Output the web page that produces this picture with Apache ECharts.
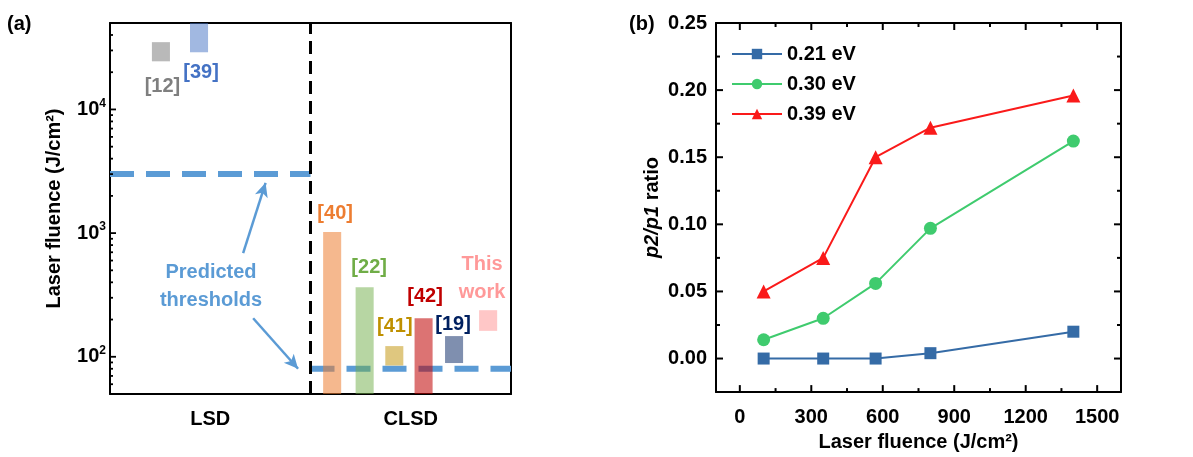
<!DOCTYPE html>
<html><head><meta charset="utf-8">
<script src="https://cdn.jsdelivr.net/npm/echarts@6/dist/echarts.min.js"></script>
<style>html,body{margin:0;padding:0;background:#fff}#c{width:1193px;height:457px}</style>
</head><body><div id="c"></div>
<script>
// ---------- Panel (a) data ----------
const refLabels = ['[12]', '[39]', '[40]', '[22]', '[41]', '[42]', '[19]', 'This\nwork'];
const refSlots  = [12.7, 22.2, 55.4, 63.5, 70.9, 78.2, 85.8, 94.3];
const refLow    = [24500, 29000, 50, 50, 85, 50, 89, 162];
const refHigh   = [35000, 50000, 1020, 365, 122, 205, 147, 238];
const regimeLabels = ['LSD', 'CLSD'];
const regimeSlots  = [25, 75];
const lsdThreshold  = 3000;
const clsdThreshold = 80;
const logTicks = [100, 1000, 10000];
const logMinorTicks = [60, 70, 80, 90, 200, 300, 400, 500, 600, 700, 800, 900,
  2000, 3000, 4000, 5000, 6000, 7000, 8000, 9000, 20000, 30000, 40000];

// ---------- Panel (b) data ----------
const fluence = [100, 350, 570, 800, 1400];
const s021 = [0, 0, 0, 0.004, 0.020];
const s030 = [0.014, 0.030, 0.056, 0.097, 0.162];
const s039 = [0.050, 0.075, 0.150, 0.172, 0.196];
const seriesNames = ['0.21 eV', '0.30 eV', '0.39 eV'];
const xTicksB = [0, 300, 600, 900, 1200, 1500];
const xMinorB = [150, 450, 750, 1050, 1350];
const yTicksB = [0, 0.05, 0.10, 0.15, 0.20, 0.25];
const yMinorB = [0.025, 0.075, 0.125, 0.175, 0.225];

// ---------- styles ----------
const FONT = '"Liberation Sans", Arial, sans-serif';
const barColors = ['rgba(127,127,127,0.55)', 'rgba(68,114,196,0.5)', 'rgba(237,125,49,0.55)',
  'rgba(112,173,71,0.5)', 'rgba(191,144,0,0.5)', 'rgba(192,0,0,0.55)', 'rgba(0,32,96,0.5)', 'rgba(255,153,153,0.55)'];
const labelColors = ['#7F7F7F', '#4472C4', '#ED7D31', '#70AD47', '#BF9000', '#C00000', '#002060', '#FF9999'];
// [dx, dy from bar edge, below?]
const labelPlace = [[1.5, 25, 1], [2, 20, 1], [3, -19, 0], [4.5, -20, 0], [0.5, -20, 0], [1.5, -22, 0], [-1, -12, 0], [-6, -32, 0]];
const BAR_HALF = 2.25;
const MAJOR = 7, MINOR = 4;

const chart = echarts.init(document.getElementById('c'));

function lbl(extra) {
  return Object.assign({color: '#000', fontSize: 20, fontWeight: 'bold', fontFamily: FONT}, extra);
}
function line() {
  return {show: true, onZero: false, lineStyle: {color: '#000', width: 2}};
}
function frameAxis(extra) {
  return Object.assign({
    axisLine: line(), axisLabel: {show: false}, splitLine: {show: false}, axisTick: {show: false}
  }, extra);
}
// tick renderer for panel b: data item = [value, dim(0=x,1=y), length, mirrored(0/1)]
function tickRenderer(xRef, yRef, width) {
  return function (params, api) {
    const v = api.value(0), d = api.value(1), len = api.value(2), both = api.value(3);
    const cs = params.coordSys;
    const st = {stroke: '#000', lineWidth: width};
    const out = [];
    if (d === 0) {
      const x = api.coord([v, yRef])[0];
      const b = cs.y + cs.height;
      out.push({type: 'line', shape: {x1: x, y1: b, x2: x, y2: b - len}, style: st});
      if (both) out.push({type: 'line', shape: {x1: x, y1: cs.y, x2: x, y2: cs.y + len}, style: st});
    } else {
      const y = api.coord([xRef, v])[1];
      out.push({type: 'line', shape: {x1: cs.x, y1: y, x2: cs.x + len, y2: y}, style: st});
      if (both) out.push({type: 'line', shape: {x1: cs.x + cs.width, y1: y, x2: cs.x + cs.width - len, y2: y}, style: st});
    }
    return {type: 'group', children: out};
  };
}

// panel (a) ticks: same layout as the bar data [x, low, high] so the log axis accepts it
const ticksA = logTicks.concat(logMinorTicks).map(v => [1, v, v]);
const ticksB = xTicksB.map(v => [v, 0, MAJOR, 1]).concat(xMinorB.map(v => [v, 0, MINOR, 1]),
  yTicksB.map(v => [v, 1, MAJOR, 1]), yMinorB.map(v => [v, 1, MINOR, 1]));

const option = {
  animation: false,
  backgroundColor: '#fff',
  title: [
    {text: '(a)', left: 7, top: 14, padding: 0, textStyle: {fontSize: 20, fontWeight: 'bold', fontFamily: FONT, color: '#000'}},
    {text: '(b)', left: 629, top: 14, padding: 0, textStyle: {fontSize: 20, fontWeight: 'bold', fontFamily: FONT, color: '#000'}}
  ],
  grid: [
    {left: 110, top: 23, width: 401, height: 371},
    {left: 716, top: 23, width: 405, height: 371}
  ],
  legend: {
    data: seriesNames, orient: 'vertical', left: 726, top: 39,
    itemWidth: 50, itemHeight: 13, itemGap: 10,
    textStyle: {fontSize: 20, fontWeight: 'bold', fontFamily: FONT, color: '#000'}
  },
  graphic: [{
    type: 'text', x: 211, y: 286, z: 100,
    style: {text: 'Predicted\nthresholds', fill: '#5B9BD5', font: 'bold 20px ' + FONT,
      align: 'center', verticalAlign: 'middle', lineHeight: 28}
  }],
  xAxis: [
    {type: 'value', gridIndex: 0, min: 0, max: 100, position: 'bottom',
      axisLine: line(), axisTick: {show: false}, splitLine: {show: false},
      axisLabel: lbl({margin: 15, customValues: regimeSlots.slice(),
        formatter: v => regimeLabels[regimeSlots.indexOf(v)] || ''})},
    frameAxis({type: 'value', gridIndex: 0, min: 0, max: 100, position: 'top'}),
    {type: 'value', gridIndex: 1, min: -100, max: 1600, position: 'bottom',
      name: 'Laser fluence (J/cm²)', nameLocation: 'middle', nameGap: 37,
      nameTextStyle: {fontSize: 20, fontWeight: 'bold', fontFamily: FONT, color: '#000'},
      axisLine: line(), splitLine: {show: false}, axisTick: {show: false},
      axisLabel: lbl({margin: 15, customValues: xTicksB.slice(), formatter: v => String(v)})},
    frameAxis({type: 'value', gridIndex: 1, min: -100, max: 1600, position: 'top'})
  ],
  yAxis: [
    {type: 'log', logBase: 10, gridIndex: 0, min: 50, max: 50000, position: 'left',
      name: 'Laser fluence (J/cm²)', nameLocation: 'middle', nameGap: 46,
      nameTextStyle: {fontSize: 20, fontWeight: 'bold', fontFamily: FONT, color: '#000'},
      axisLine: line(), splitLine: {show: false}, axisTick: {show: false},
      axisLabel: {margin: 4, customValues: logTicks.slice(),
        formatter: v => '{n|10}{e|' + Math.round(Math.log10(v)) + '}',
        rich: {
          n: {fontSize: 20, fontWeight: 'bold', fontFamily: FONT, color: '#000', lineHeight: 24},
          e: {fontSize: 12, fontWeight: 'bold', fontFamily: FONT, color: '#000', verticalAlign: 'top', lineHeight: 14}
        }}},
    frameAxis({type: 'log', logBase: 10, gridIndex: 0, min: 50, max: 50000, position: 'right'}),
    {type: 'value', gridIndex: 1, min: -0.025, max: 0.25, position: 'left',
      name: '{i|p2/p1} ratio', nameLocation: 'middle', nameGap: 54,
      nameTextStyle: {fontSize: 20, fontWeight: 'bold', fontFamily: FONT, color: '#000',
        rich: {i: {fontSize: 20, fontWeight: 'bold', fontStyle: 'italic', fontFamily: FONT, color: '#000'}}},
      axisLine: line(), splitLine: {show: false}, axisTick: {show: false},
      axisLabel: lbl({margin: 9, customValues: yTicksB.slice(), formatter: v => v.toFixed(2)})},
    frameAxis({type: 'value', gridIndex: 1, min: -0.025, max: 0.25, position: 'right'})
  ],
  series: [
    {type: 'line', xAxisIndex: 0, yAxisIndex: 0, symbol: 'none', z: 2, silent: true,
      data: [[0, lsdThreshold], [regimeSlots[0] * 2, lsdThreshold]],
      lineStyle: {color: '#5B9BD5', width: 6, type: [24, 12]},
      markLine: {
        silent: true, symbol: ['none', 'arrow'], symbolSize: [10, 14], label: {show: false},
        lineStyle: {color: '#5B9BD5', width: 2.5, type: 'solid'},
        data: [
          [{coord: [33.2, 690]}, {coord: [38.8, 2550]}],
          [{coord: [35.7, 205]}, {coord: [46.9, 80]}]
        ]
      }},
    {type: 'line', xAxisIndex: 0, yAxisIndex: 0, symbol: 'none', z: 2, silent: true,
      data: [[regimeSlots[0] * 2, clsdThreshold], [100, clsdThreshold]],
      lineStyle: {color: '#5B9BD5', width: 6, type: [24, 12]}},
    {type: 'line', xAxisIndex: 0, yAxisIndex: 0, symbol: 'none', z: 3, silent: true,
      data: [[regimeSlots[0] * 2, 50], [regimeSlots[0] * 2, 50000]],
      lineStyle: {color: '#000', width: 3, type: [13, 7]}},
    {type: 'custom', xAxisIndex: 0, yAxisIndex: 0, z: 4, silent: true,
      data: refSlots.map((s, i) => [s, refLow[i], refHigh[i]]),
      encode: {x: 0, y: [1, 2]},
      renderItem: function (params, api) {
        const i = params.dataIndex;
        const x = api.value(0), lo = api.value(1), hi = api.value(2);
        const pL = api.coord([x - BAR_HALF, lo]);
        const pR = api.coord([x + BAR_HALF, hi]);
        const cs = params.coordSys;
        const top = Math.max(pR[1], cs.y);
        const bot = Math.min(pL[1], cs.y + cs.height);
        const pl = labelPlace[i];
        const cx = (pL[0] + pR[0]) / 2 + pl[0];
        const cy = pl[2] ? bot + pl[1] : top + pl[1];
        return {type: 'group', children: [
          {type: 'rect', shape: {x: pL[0], y: top, width: pR[0] - pL[0], height: bot - top},
            style: {fill: barColors[i]}},
          {type: 'text', x: cx, y: cy,
            style: {text: refLabels[i], fill: labelColors[i], font: 'bold 20px ' + FONT,
              align: 'center', verticalAlign: 'middle', lineHeight: 28}}
        ]};
      }},
    // axis ticks (panel a), drawn on the left edge at each tick value
    {type: 'custom', xAxisIndex: 0, yAxisIndex: 0, z: 5, silent: true,
      data: ticksA, encode: {x: 0, y: [1, 2]},
      renderItem: function (params, api) {
        const v = api.value(1);
        const y = api.coord([api.value(0), v])[1];
        const cs = params.coordSys;
        const len = logTicks.indexOf(v) >= 0 ? 6 : 3;
        return {type: 'line', shape: {x1: cs.x, y1: y, x2: cs.x + len, y2: y},
          style: {stroke: '#000', lineWidth: 1.8}};
      }},
    // axis ticks (panel b)
    {type: 'custom', xAxisIndex: 2, yAxisIndex: 2, z: 10, silent: true, clip: false,
      data: ticksB, encode: {x: -1, y: -1}, renderItem: tickRenderer(0, 0, 2)},
    {name: seriesNames[0], type: 'line', xAxisIndex: 2, yAxisIndex: 2,
      data: fluence.map((f, i) => [f, s021[i]]), symbol: 'rect', symbolSize: 12,
      lineStyle: {width: 2, color: '#356BA6'}, itemStyle: {color: '#356BA6'}},
    {name: seriesNames[1], type: 'line', xAxisIndex: 2, yAxisIndex: 2,
      data: fluence.map((f, i) => [f, s030[i]]), symbol: 'circle', symbolSize: 13,
      lineStyle: {width: 2, color: '#3FCB6E'}, itemStyle: {color: '#3FCB6E'}},
    {name: seriesNames[2], type: 'line', xAxisIndex: 2, yAxisIndex: 2,
      data: fluence.map((f, i) => [f, s039[i]]), symbol: 'triangle', symbolSize: 14,
      lineStyle: {width: 2, color: '#FA1A1A'}, itemStyle: {color: '#FA1A1A'}}
  ]
};
chart.setOption(option);
</script></body></html>
